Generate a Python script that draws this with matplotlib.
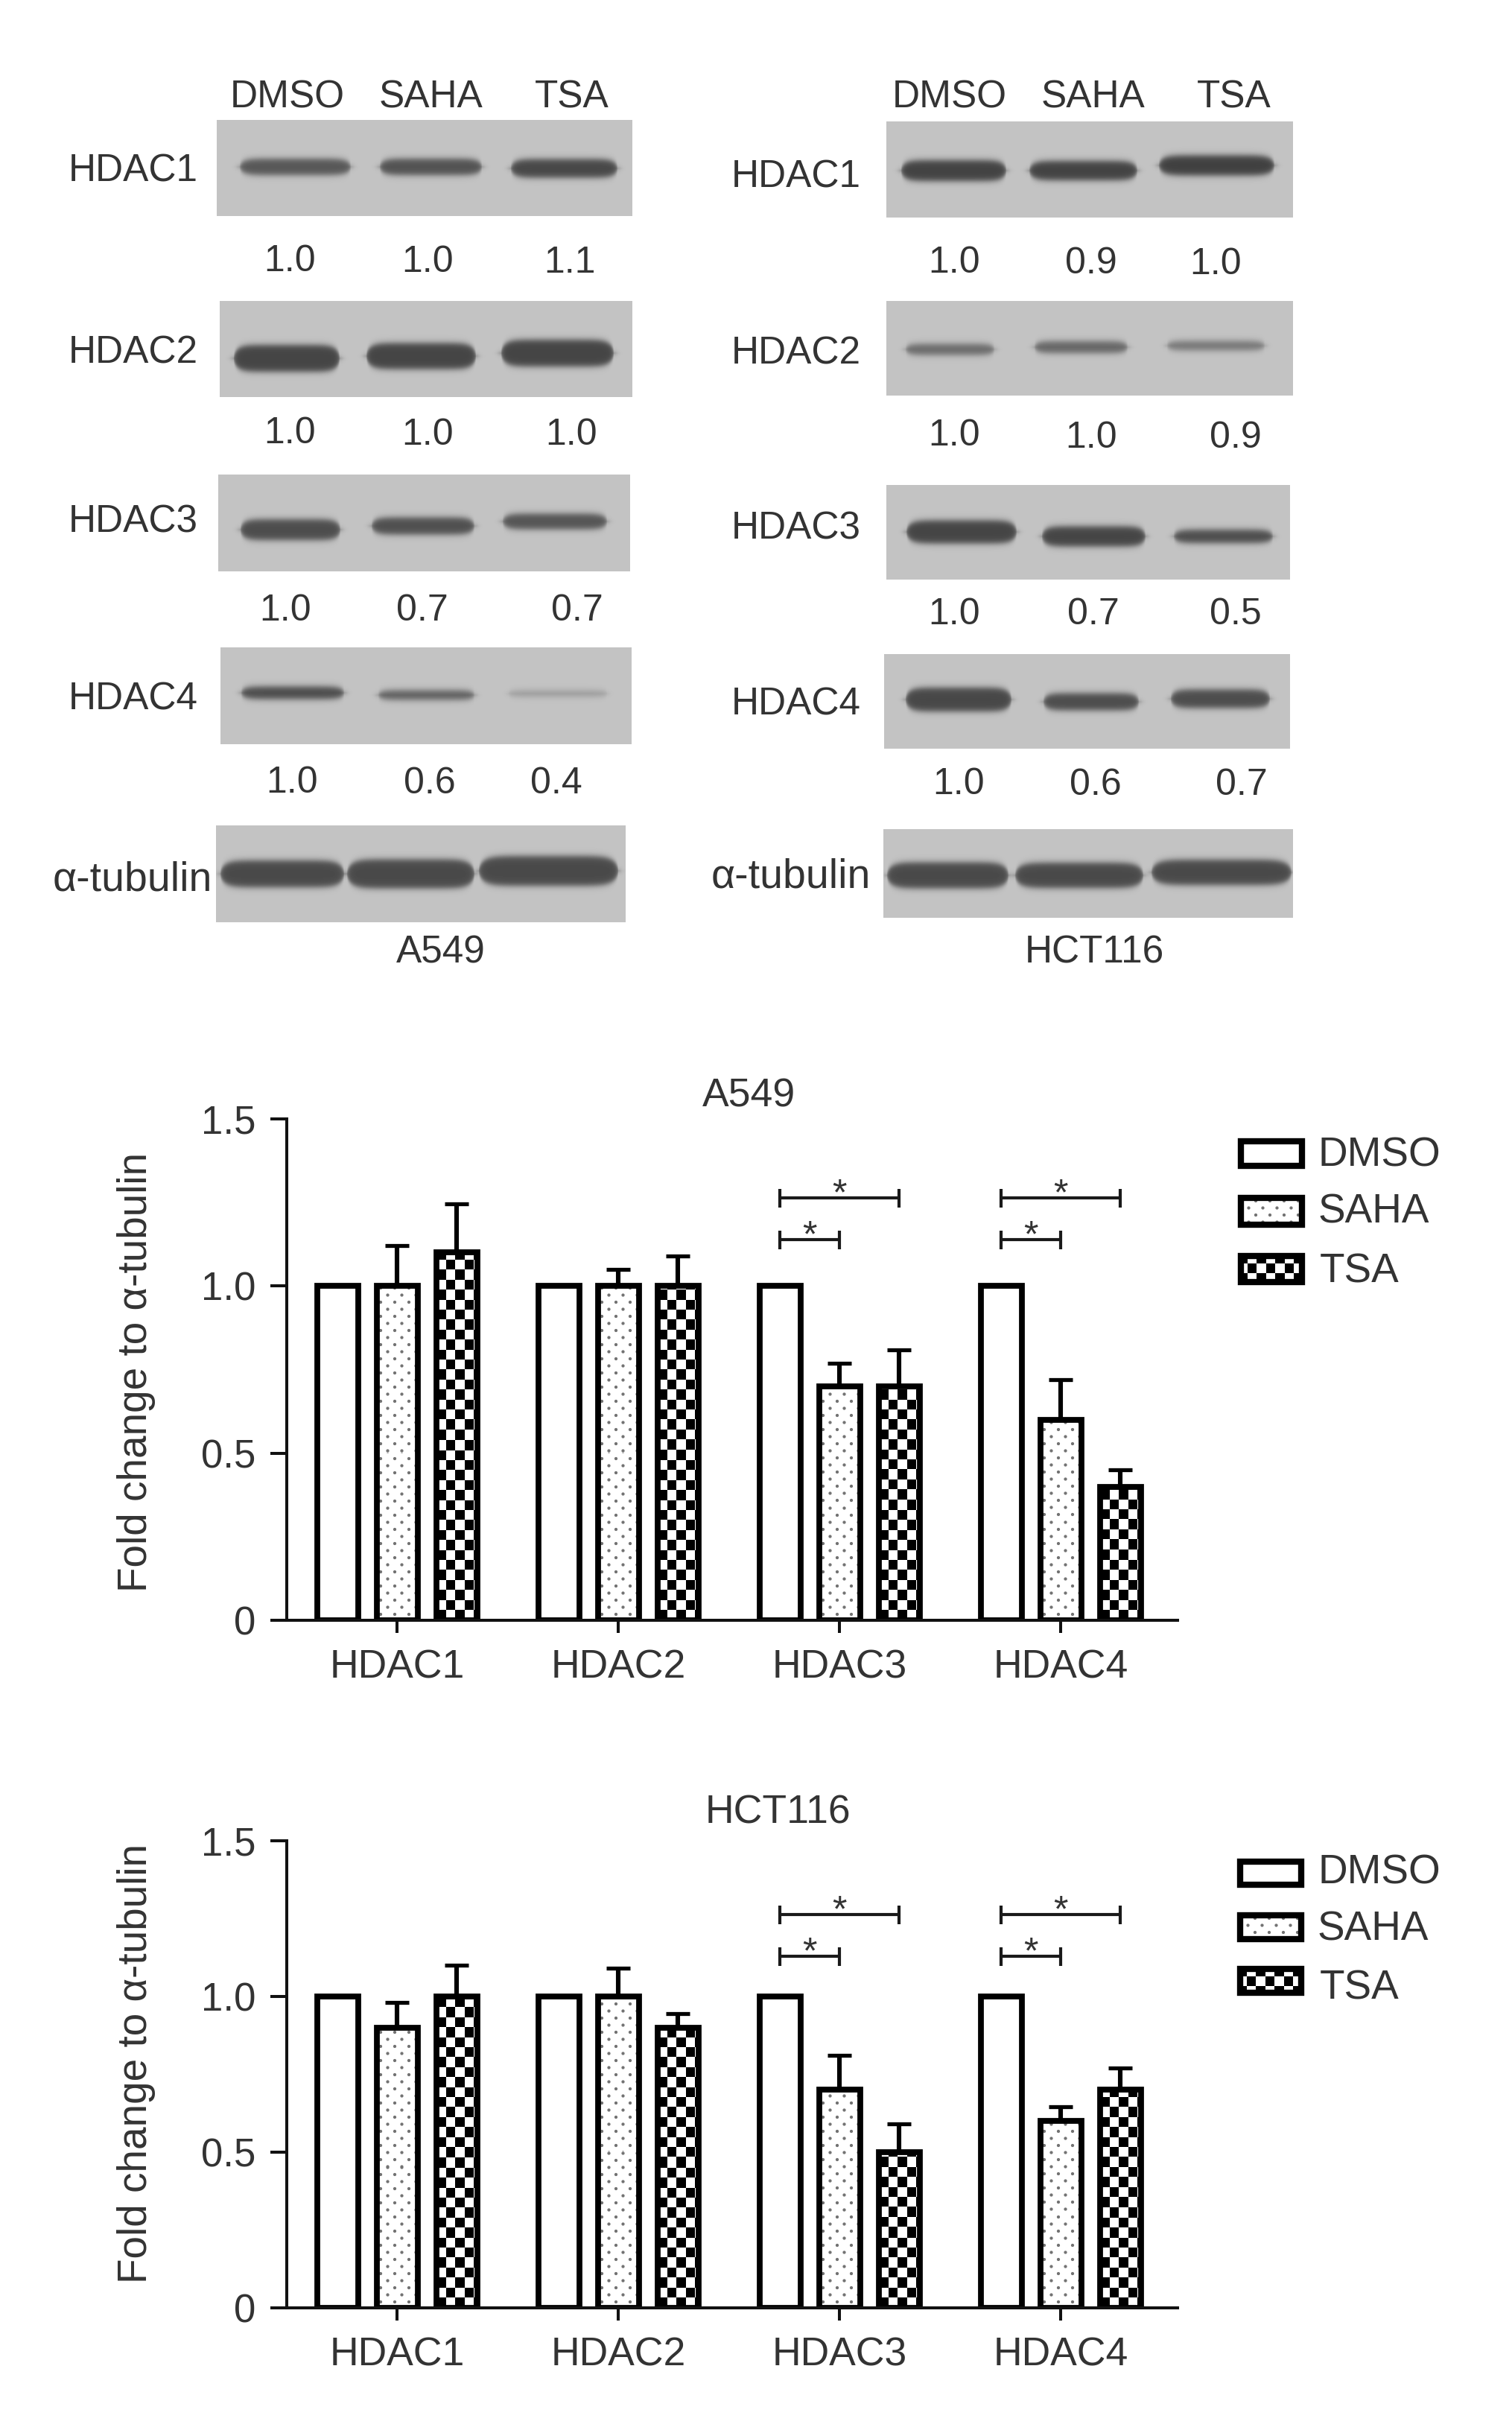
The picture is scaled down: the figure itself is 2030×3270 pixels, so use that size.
import numpy as np
import matplotlib
matplotlib.use("Agg")
import matplotlib.pyplot as plt
from matplotlib.patches import Rectangle

plt.rcParams['font.family'] = ['Liberation Sans', 'DejaVu Sans']
TXT = '#333333'

# ---------- data ----------
genes = ['HDAC1', 'HDAC2', 'HDAC3', 'HDAC4']
treatments = ['DMSO', 'SAHA', 'TSA']
a549_dmso = [1.0, 1.0, 1.0, 1.0]
a549_saha = [1.0, 1.0, 0.7, 0.6]
a549_tsa = [1.1, 1.0, 0.7, 0.4]
a549_saha_err = [0.12, 0.05, 0.07, 0.12]
a549_tsa_err = [0.145, 0.09, 0.11, 0.05]
hct_dmso = [1.0, 1.0, 1.0, 1.0]
hct_saha = [0.9, 1.0, 0.7, 0.6]
hct_tsa = [1.0, 0.9, 0.5, 0.7]
hct_saha_err = [0.08, 0.09, 0.11, 0.045]
hct_tsa_err = [0.10, 0.045, 0.09, 0.07]
y_ticks = [0, 0.5, 1.0, 1.5]
y_ticklabels = ['0', '0.5', '1.0', '1.5']
sig_genes = [2, 3]
a549_sig_levels = [1.139, 1.264]
hct_sig_levels = [1.129, 1.263]
a549_quant = [['1.0', '1.0', '1.1'], ['1.0', '1.0', '1.0'], ['1.0', '0.7', '0.7'], ['1.0', '0.6', '0.4']]
hct_quant = [['1.0', '0.9', '1.0'], ['1.0', '1.0', '0.9'], ['1.0', '0.7', '0.5'], ['1.0', '0.6', '0.7']]

# ---------- western blot panels (photographic content) ----------
# panel box: x0, x1, y0, y1 ; bands: x0, x1, y centre, thickness, grey level
a549_panels = [
    ((291, 849, 161, 290), [(322, 471, 224, 22, .34), (510, 647, 224, 22, .32), (686, 829, 226, 25, .28)]),
    ((295, 849, 404, 533), [(314, 456, 481, 36, .27), (492, 639, 478, 35, .27), (673, 824, 474, 36, .27)]),
    ((293, 846, 637, 767), [(323, 457, 711, 28, .30), (499, 637, 706, 23, .31), (675, 815, 700, 21, .33)]),
    ((296, 848, 869, 999), [(324, 462, 930, 17, .30), (508, 637, 933, 13, .38), (683, 815, 931, 9, .62)]),
    ((290, 840, 1108, 1238), [(296, 462, 1173, 36, .29), (466, 637, 1173, 39, .29), (643, 830, 1169, 40, .29)]),
]
hct_panels = [
    ((1190, 1736, 163, 292), [(1210, 1351, 229, 28, .26), (1382, 1527, 229, 26, .26), (1556, 1711, 222, 27, .25)]),
    ((1190, 1736, 404, 531), [(1216, 1335, 469, 15, .42), (1389, 1514, 466, 16, .40), (1567, 1698, 464, 13, .47)]),
    ((1190, 1732, 651, 778), [(1217, 1365, 714, 31, .27), (1399, 1538, 720, 27, .27), (1576, 1709, 720, 18, .30)]),
    ((1187, 1732, 878, 1005), [(1216, 1358, 939, 32, .28), (1401, 1529, 942, 23, .30), (1572, 1705, 938, 25, .30)]),
    ((1186, 1736, 1113, 1232), [(1191, 1354, 1175, 35, .29), (1363, 1535, 1175, 34, .29), (1546, 1734, 1171, 34, .29)]),
]

W, H = 2031, 3270
fig = plt.figure(figsize=(W / 100, H / 100), dpi=100, facecolor='white')
page = fig.add_axes([0, 0, 1, 1], facecolor='none')
page.set_xlim(0, W)
page.set_ylim(H, 0)
page.axis('off')


def ctext(x, y, s, pt, **kw):
    """Text whose capitals are centred vertically on y (pixels)."""
    em = pt * 100 / 72
    page.text(x, y + 0.358 * em, s, fontsize=pt, ha=kw.pop('ha', 'center'), va='baseline', color=TXT, **kw)


def sig(z, w):
    return 1 / (1 + np.exp(-z / w))


def draw_blot(box, bands):
    x0, x1, y0, y1 = box
    xx, yy = np.meshgrid(np.arange(x0, x1) + .5, np.arange(y0, y1) + .5)
    img = np.full(xx.shape, 0.765)
    for bx0, bx1, yc, th, level in bands:
        cx, hw = (bx0 + bx1) / 2, (bx1 - bx0) / 2
        u = np.clip(np.abs(xx - cx) / hw, 0, 1)
        local = th / 2 * np.sqrt(np.clip(1 - u ** 8, 0, 1))
        m = sig(local - np.abs(yy - yc), 2.4) * sig(hw - np.abs(xx - cx) + 2, 2.5)
        img = img * (1 - m) + level * m
    page.imshow(img, extent=(x0, x1, y1, y0), cmap='gray', vmin=0, vmax=1, aspect='auto',
                interpolation='bilinear', zorder=1)


for panels in (a549_panels, hct_panels):
    for box, bands in panels:
        draw_blot(box, bands)
page.set_xlim(0, W)
page.set_ylim(H, 0)

# blot texts
LBL = 37
for x, t in zip((386, 579, 768), treatments):
    ctext(x, 126, t, 37)
for x, t in zip((1275, 1468, 1657), treatments):
    ctext(x, 126, t, 37)
for y, g in zip((225, 469, 696, 934), genes):
    ctext(179, y, g, LBL)
for y, g in zip((233, 470, 705, 941), genes):
    ctext(1069, y, g, LBL)
ctext(178, 1176, 'α-tubulin', 40)
ctext(1062, 1172, 'α-tubulin', 40)
a549_q_x = [(389, 574, 765), (389, 574, 767), (383, 567, 775), (392, 577, 747)]
a549_q_y = [(346, 347, 348), (577, 579, 579), (815, 815, 815), (1046, 1047, 1047)]
hct_q_x = [(1281, 1465, 1632), (1281, 1465, 1659), (1281, 1468, 1659), (1287, 1471, 1667)]
hct_q_y = [(348, 349, 350), (580, 583, 583), (820, 820, 820), (1048, 1049, 1049)]
for qs, xs, ys in ((a549_quant, a549_q_x, a549_q_y), (hct_quant, hct_q_x, hct_q_y)):
    for row, rx, ry in zip(qs, xs, ys):
        for s, x, y in zip(row, rx, ry):
            ctext(x, y, s, 36)
ctext(592, 1274, 'A549', 37)
ctext(1469, 1274, 'HCT116', 37)


# ---------- fill patterns ----------
def checker(w, h):
    yy, xx = np.indices((max(int(h), 1), max(int(w), 1)))
    return (((xx // 12.5).astype(int) + (yy // 13.4).astype(int)) % 2).astype(float)


def dots(w, h):
    yy, xx = np.indices((max(int(h), 1), max(int(w), 1)))
    p = 19.0
    d1 = np.hypot((xx + 5) % p - p / 2, (yy + 2) % p - p / 2)
    d2 = np.hypot((xx + 5 + p / 2) % p - p / 2, (yy + 2 + p / 2) % p - p / 2)
    d = np.minimum(d1, d2)
    return 1 - 0.55 * np.clip(2.6 - d, 0, 1)


GROUP_PX = 297.0
OFF = 80 / GROUP_PX
BW = 55 / GROUP_PX
PATTERN = {1: dots, 2: checker}


def bar_panel(top, bottom, title, title_xy, ylab_y, series, errs, levels):
    L, R = 385, 1581
    ax = fig.add_axes([L / W, 1 - bottom / H, (R - L) / W, (bottom - top) / H], facecolor='none')
    xlim = ((L - 533) / GROUP_PX, (R - 533) / GROUP_PX)
    px_per_unit = bottom - top
    x = np.arange(len(genes))
    for k, (vals, err) in enumerate(zip(series, errs)):
        pos = x + (k - 1) * OFF
        if k in PATTERN:
            for p, v in zip(pos, vals):
                arr = PATTERN[k](55, v / 1.5 * px_per_unit)
                ax.imshow(arr, extent=(p - BW / 2, p + BW / 2, 0, v), origin='lower', cmap='gray',
                          vmin=0, vmax=1, aspect='auto', interpolation='nearest', zorder=1)
        if err is not None:
            ax.errorbar(pos, vals, yerr=[np.zeros(len(vals)), err], fmt='none', ecolor='black',
                        elinewidth=4.4, capsize=11.5, capthick=3.8, zorder=1.5)
        ax.bar(pos, vals, width=BW, facecolor='none', edgecolor='black', linewidth=5.6, zorder=2)
    for i in sig_genes:
        for level, end in zip(levels, (0, 1)):
            x0, x1 = i - OFF, i + end * OFF
            ax.plot([x0, x1], [level, level], color='#1a1a1a', lw=3, marker='|', ms=18, mew=3,
                    solid_capstyle='butt', zorder=3)
            ax.annotate('*', xy=((x0 + x1) / 2, level), xytext=(0, -6.5), textcoords='offset points',
                        ha='center', va='baseline', fontsize=36, color=TXT)
    ax.set_xlim(*xlim)
    ax.set_ylim(0, 1.5)
    ax.set_xticks(x)
    ax.set_xticklabels(genes, fontsize=38.5, color=TXT)
    ax.set_yticks(y_ticks)
    ax.set_yticklabels(y_ticklabels, fontsize=38, color=TXT)
    ax.tick_params(axis='y', length=15.8, width=2.9, pad=14, color='#111111')
    ax.tick_params(axis='x', length=12, width=2.9, pad=16, color='#111111')
    for s in ('top', 'right'):
        ax.spines[s].set_visible(False)
    for s in ('left', 'bottom'):
        ax.spines[s].set_linewidth(2.9)
        ax.spines[s].set_color('#111111')
    ax.set_ylabel('Fold change to α-tubulin', fontsize=39.5, color=TXT, va='center')
    ax.yaxis.set_label_coords((183 - L) / (R - L), (bottom - ylab_y) / (bottom - top))
    ax.set_title(title, fontsize=38.5, color=TXT, va='center',
                 x=(title_xy[0] - L) / (R - L), y=1 + (top - title_xy[1]) / (bottom - top), pad=0)
    return ax


bar_panel(1502, 2175, 'A549', (1005, 1471), 1842,
          [a549_dmso, a549_saha, a549_tsa], [None, a549_saha_err, a549_tsa_err], a549_sig_levels)
bar_panel(2471, 3098, 'HCT116', (1044, 2433), 2770,
          [hct_dmso, hct_saha, hct_tsa], [None, hct_saha_err, hct_tsa_err], hct_sig_levels)


# ---------- legends ----------
def swatch(x0, x1, y0, y1, k):
    if k in PATTERN:
        arr = PATTERN[k](x1 - x0, y1 - y0)
        page.imshow(arr, extent=(x0, x1, y1, y0), cmap='gray', vmin=0, vmax=1, aspect='auto',
                    interpolation='nearest', zorder=2)
    page.add_patch(Rectangle((x0 + 4, y0 + 4), x1 - x0 - 8, y1 - y0 - 8, facecolor='none',
                             edgecolor='black', linewidth=6, zorder=3))


for boxes, texts in (
    (((1662, 1752, 1528, 1569), (1662, 1752, 1604, 1648), (1662, 1752, 1682, 1725)),
     ((1770, 1546), (1770, 1622), (1772, 1702))),
    (((1661, 1751, 2495, 2534), (1661, 1751, 2567, 2607), (1661, 1751, 2639, 2679)),
     ((1769, 2509), (1769, 2585), (1772, 2664))),
):
    for k, (b, t) in enumerate(zip(boxes, texts)):
        swatch(*b, k)
        ctext(t[0], t[1], treatments[k], 39.5, ha='left')
page.set_xlim(0, W)
page.set_ylim(H, 0)

fig.savefig('out.png', dpi=100, facecolor='white')
